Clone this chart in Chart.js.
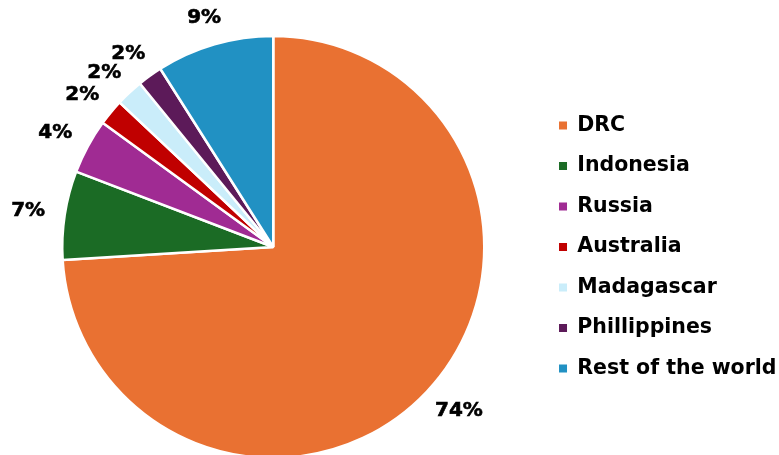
<!DOCTYPE html>
<html>
<head>
<meta charset="utf-8">
<script src="https://cdn.jsdelivr.net/npm/chart.js@4/dist/chart.umd.min.js"></script>
<style>
  html, body { margin: 0; padding: 0; background: #ffffff; overflow: hidden; }
  #wrap { width: 779px; height: 455px; position: relative; overflow: hidden; }
</style>
</head>
<body>
<div id="wrap"><canvas id="c" width="790" height="455"></canvas></div>
<script>
const categories = ["DRC", "Indonesia", "Russia", "Australia", "Madagascar", "Phillippines", "Rest of the world"];
const shares = [74.1, 6.8, 4.2, 2.0, 2.1, 1.9, 9.0];
const sliceColors = ["#E97132", "#1B6B25", "#A02B93", "#C00000", "#CAEDFA", "#5C1A59", "#2191C3"];

const FONT = "'DejaVu Sans', sans-serif";

const pctLabels = {
  id: 'pctLabels',
  afterDatasetsDraw(chart) {
    const ctx = chart.ctx;
    const meta = chart.getDatasetMeta(0);
    const data = chart.data.datasets[0].data;
    const total = data.reduce((a, b) => a + b, 0);
    ctx.save();
    ctx.font = "bold 20px " + FONT;
    ctx.fillStyle = "#000000";
    ctx.strokeStyle = "#000000";
    ctx.lineWidth = 0.6;
    ctx.textAlign = "center";
    ctx.textBaseline = "middle";
    meta.data.forEach((arc, i) => {
      const p = arc.getProps(['x', 'y', 'startAngle', 'endAngle', 'outerRadius'], true);
      const mid = (p.startAngle + p.endAngle) / 2;
      const txt = Math.round(data[i] / total * 100) + "%";
      const w = ctx.measureText(txt).width;
      const h = 15;
      const d = p.outerRadius + 20;
      const cx = p.x + d * Math.cos(mid) + (w / 2) * Math.cos(mid);
      const cy = p.y + d * Math.sin(mid) + (h / 2) * Math.sin(mid);
      ctx.fillText(txt, cx, cy);
      ctx.strokeText(txt, cx, cy);
    });
    ctx.restore();
  }
};

const baseGen = Chart.overrides.pie.plugins.legend.labels.generateLabels;

new Chart(document.getElementById('c'), {
  type: 'pie',
  data: {
    labels: categories,
    datasets: [{
      data: shares,
      backgroundColor: sliceColors,
      borderColor: "#ffffff",
      borderWidth: 2.5,
      radius: 211
    }]
  },
  options: {
    responsive: false,
    devicePixelRatio: 1,
    animation: false,
    layout: { padding: { left: 7.5, right: 3.5, top: 39, bottom: 0 } },
    plugins: {
      tooltip: { enabled: false },
      legend: {
        position: 'right',
        labels: {
          boxWidth: 8,
          boxHeight: 8,
          padding: 20,
          color: "#000000",
          font: { family: FONT, size: 20.5, weight: 'bold' },
          generateLabels(chart) {
            return baseGen(chart).map(l => Object.assign(l, { lineWidth: 0 }));
          }
        }
      }
    }
  },
  plugins: [pctLabels]
});
</script>
</body>
</html>
